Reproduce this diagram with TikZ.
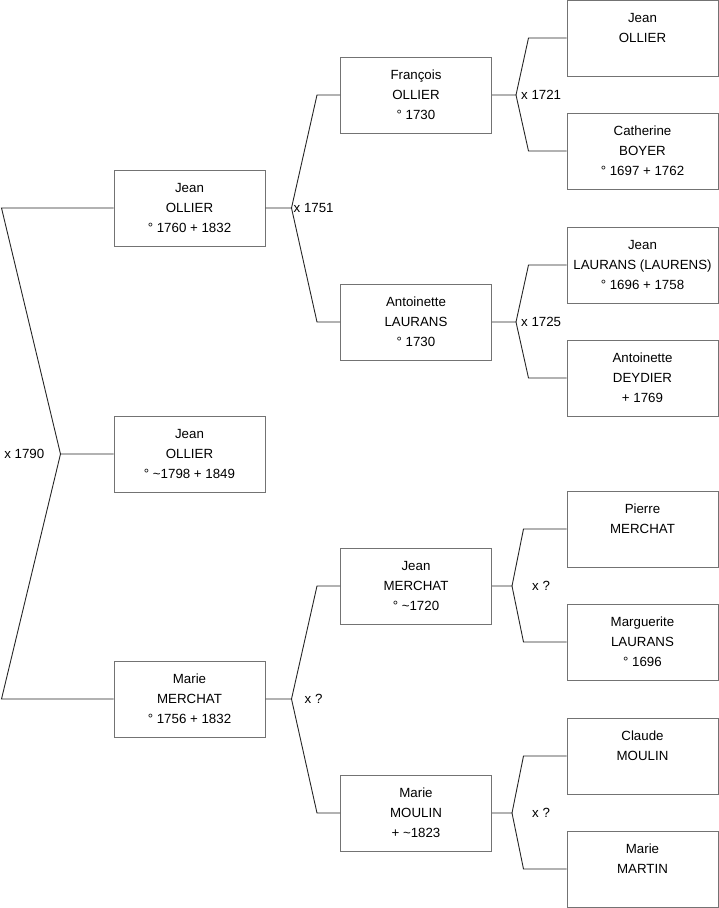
\documentclass[tikz,border=0pt]{standalone}
\usepackage{fontspec}
\setmainfont{Liberation Sans}
\usepackage{tikz}

\begin{document}
\begin{tikzpicture}[x=1pt, y=-1pt,
                person/.style={draw=black!55, line width=1pt, minimum width=151pt, minimum height=76pt, inner sep=0pt, align=center, font=\fontsize{13.3}{20}\selectfont},
                link/.style={black!85, line width=0.9pt},
                union/.style={inner sep=0pt, font=\fontsize{13.3}{16}\selectfont}]
                \useasboundingbox (0,0) rectangle (719,908);
                \node[person] (root) at (189.5,454) {\strut Jean\\OLLIER\\° \textasciitilde 1798 + 1849\strut};
                \node[person] (pere) at (189.5,208) {\strut Jean\\OLLIER\\° 1760 + 1832\strut};
                \node[person] (mere) at (189.5,699) {\strut Marie\\MERCHAT\\° 1756 + 1832\strut};
                \node[person] (gpa) at (416,95) {\strut François\\OLLIER\\° 1730\strut};
                \node[person] (gma) at (416,322) {\strut Antoinette\\LAURANS\\° 1730\strut};
                \node[person] (gpb) at (416,586) {\strut Jean\\MERCHAT\\° \textasciitilde 1720\strut};
                \node[person] (gmb) at (416,813) {\strut Marie\\MOULIN\\+ \textasciitilde 1823\strut};
                \node[person] (aa1) at (642.5,38) {\strut Jean\\OLLIER\\\strut};
                \node[person] (aa2) at (642.5,151) {\strut Catherine\\BOYER\\° 1697 + 1762\strut};
                \node[person] (aa3) at (642.5,265) {\strut Jean\\LAURANS (LAURENS)\\° 1696 + 1758\strut};
                \node[person] (aa4) at (642.5,378) {\strut Antoinette\\DEYDIER\\+ 1769\strut};
                \node[person] (ab1) at (642.5,529) {\strut Pierre\\MERCHAT\\\strut};
                \node[person] (ab2) at (642.5,642) {\strut Marguerite\\LAURANS\\° 1696\strut};
                \node[person] (ab3) at (642.5,756) {\strut Claude\\MOULIN\\\strut};
                \node[person] (ab4) at (642.5,869) {\strut Marie\\MARTIN\\\strut};
                \draw[link] (root.west) -- ++(-53,0) coordinate (m0) -- ([xshift=-112pt]pere.west) -- (pere.west);
                \draw[link] (m0) -- ([xshift=-112pt]mere.west) -- (mere.west);
                \draw[link] (pere.east) -- ++(26,0) coordinate (m1) -- ([xshift=-23pt]gpa.west) -- (gpa.west);
                \draw[link] (m1) -- ([xshift=-23pt]gma.west) -- (gma.west);
                \draw[link] (mere.east) -- ++(26,0) coordinate (m2) -- ([xshift=-23pt]gpb.west) -- (gpb.west);
                \draw[link] (m2) -- ([xshift=-23pt]gmb.west) -- (gmb.west);
                \draw[link] (gpa.east) -- ++(24,0) coordinate (m3) -- ([xshift=-38pt]aa1.west) -- (aa1.west);
                \draw[link] (m3) -- ([xshift=-38pt]aa2.west) -- (aa2.west);
                \draw[link] (gma.east) -- ++(24,0) coordinate (m4) -- ([xshift=-38pt]aa3.west) -- (aa3.west);
                \draw[link] (m4) -- ([xshift=-38pt]aa4.west) -- (aa4.west);
                \draw[link] (gpb.east) -- ++(20,0) coordinate (m5) -- ([xshift=-43pt]ab1.west) -- (ab1.west);
                \draw[link] (m5) -- ([xshift=-43pt]ab2.west) -- (ab2.west);
                \draw[link] (gmb.east) -- ++(20,0) coordinate (m6) -- ([xshift=-43pt]ab3.west) -- (ab3.west);
                \draw[link] (m6) -- ([xshift=-43pt]ab4.west) -- (ab4.west);
                \node[union, left=16pt] (u0) at (m0) {x 1790};
                \node[union, right=2pt] (u1) at (m1) {x 1751};
                \node[union, right=13pt] (u2) at (m2) {x ?};
                \node[union, right=5pt] (u3) at (m3) {x 1721};
                \node[union, right=5pt] (u4) at (m4) {x 1725};
                \node[union, right=20pt] (u5) at (m5) {x ?};
                \node[union, right=20pt] (u6) at (m6) {x ?};
\end{tikzpicture}
\end{document}
